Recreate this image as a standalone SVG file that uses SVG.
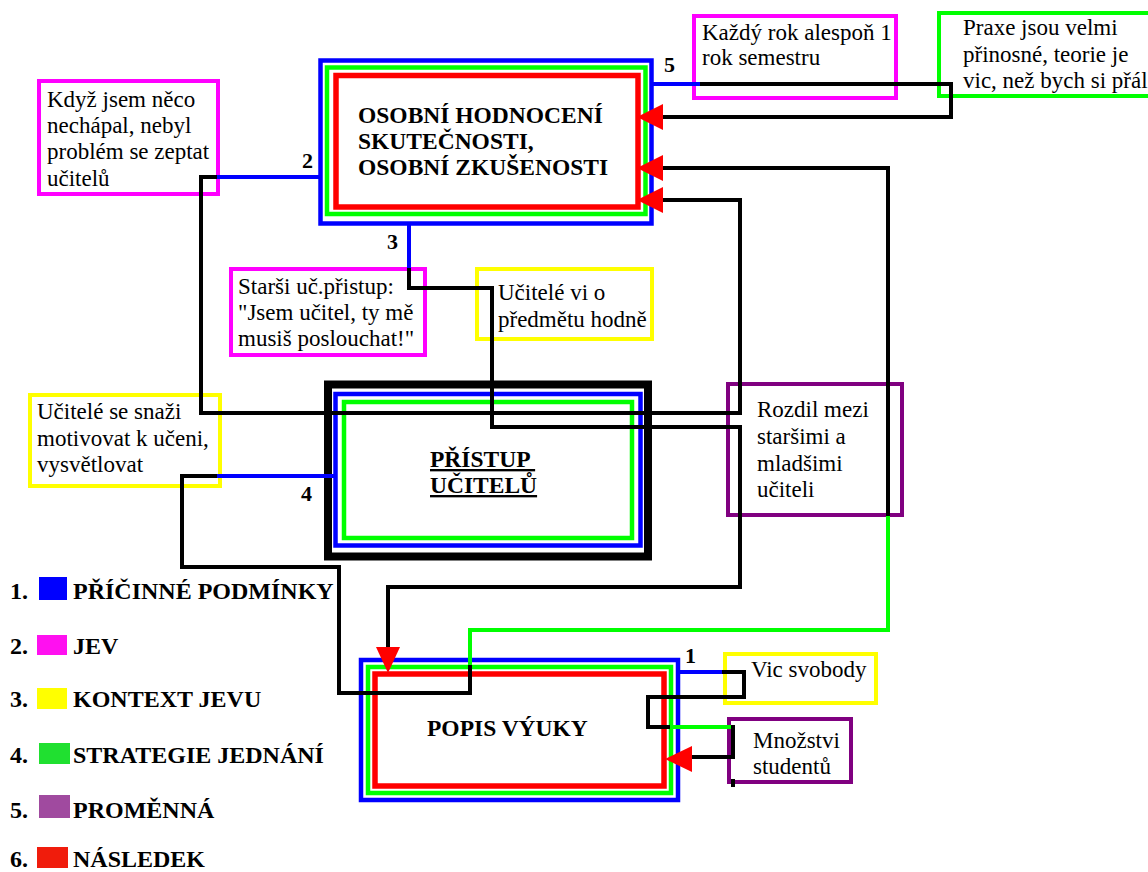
<svg xmlns="http://www.w3.org/2000/svg" width="1148" height="872" viewBox="0 0 1148 872">
  <defs>
    <style>
      .t { font-family: "Liberation Serif", "Times New Roman", serif; font-size: 23px; fill: #000; }
      .tb { font-family: "Liberation Serif", "Times New Roman", serif; font-size: 23.5px; font-weight: bold; fill: #000; }
      .lg { font-family: "Liberation Serif", "Times New Roman", serif; font-size: 24px; font-weight: bold; fill: #000; }
      .num { font-family: "Liberation Serif", "Times New Roman", serif; font-size: 22px; font-weight: bold; fill: #000; }
      .box { fill: none; stroke-width: 4; }
      .mag { stroke: #FF00FF; }
      .yel { stroke: #FFFF00; }
      .grn { stroke: #00FF00; }
      .pur { stroke: #800080; }
      .frame-b { fill: none; stroke: #0000FF; stroke-width: 4.5; }
      .frame-g { fill: none; stroke: #00FF00; stroke-width: 4.5; }
      .frame-r { fill: none; stroke: #FF0000; stroke-width: 5.5; }
      .ln { fill: none; stroke-width: 4; stroke-linejoin: miter; stroke-linecap: square; }
      .k { stroke: #000; }
      .b { stroke: #0000FF; }
      .g { stroke: #00FF00; }
      .arrow { fill: #FF0000; }
    </style>
  </defs>

  <rect width="1148" height="872" fill="#fff"/>

  <!-- central category: personal evaluation -->
  <g id="osobni-hodnoceni">
    <rect class="frame-b" x="320.5" y="60.5" width="331" height="163"/>
    <rect class="frame-g" x="327" y="67.5" width="318.5" height="146.5"/>
    <rect class="frame-r" x="336" y="75.5" width="302" height="131.5"/>
    <text class="tb" x="358" y="123">OSOBNÍ HODNOCENÍ</text>
    <text class="tb" x="358" y="149">SKUTEČNOSTI,</text>
    <text class="tb" x="358" y="175">OSOBNÍ ZKUŠENOSTI</text>
  </g>

  <!-- teachers' approach -->
  <g id="pristup-ucitelu">
    <rect x="328" y="384.5" width="320" height="172" fill="none" stroke="#000" stroke-width="8"/>
    <rect class="frame-b" x="335.5" y="394" width="305" height="151.5" stroke-width="4"/>
    <rect class="frame-g" x="344" y="402" width="288" height="136" stroke-width="4"/>
    <text class="tb" x="430" y="467" text-decoration="underline" xml:space="preserve">PŘÍSTUP </text>
    <text class="tb" x="430" y="493" text-decoration="underline">UČITELŮ</text>
  </g>

  <!-- description of teaching -->
  <g id="popis-vyuky">
    <rect class="frame-b" x="361" y="660" width="317" height="140"/>
    <rect class="frame-g" x="368" y="667" width="303" height="126"/>
    <rect class="frame-r" x="375" y="674" width="289" height="112" stroke-width="5"/>
    <text class="tb" x="427" y="736">POPIS VÝUKY</text>
  </g>

  <g id="kdyz-jsem">
    <rect class="box mag" x="39" y="81" width="179" height="113"/>
    <text class="t" x="47" y="107">Když jsem něco</text>
    <text class="t" x="47" y="133">nechápal, nebyl</text>
    <text class="t" x="47" y="159">problém se zeptat</text>
    <text class="t" x="47" y="186">učitelů</text>
  </g>

  <g id="kazdy-rok">
    <rect class="box mag" x="694" y="16" width="202" height="82"/>
    <text class="t" x="702" y="40">Každý rok alespoň 1</text>
    <text class="t" x="702" y="65">rok semestru</text>
  </g>

  <g id="praxe">
    <rect class="box grn" x="939" y="13" width="215" height="83"/>
    <text class="t" x="963" y="35">Praxe jsou velmi</text>
    <text class="t" x="963" y="62">přinosné, teorie je</text>
    <text class="t" x="963" y="88">vic, než bych si přál</text>
  </g>

  <g id="starsi-pristup">
    <rect class="box mag" x="231" y="269" width="194" height="86"/>
    <text class="t" x="238" y="294">Starši uč.přistup:</text>
    <text class="t" x="238" y="320">"Jsem učitel, ty mě</text>
    <text class="t" x="238" y="346">musiš poslouchat!"</text>
  </g>

  <g id="ucitele-vi">
    <rect class="box yel" x="477" y="269" width="175" height="70"/>
    <text class="t" x="498" y="300">Učitelé vi o</text>
    <text class="t" x="498" y="327">předmětu hodně</text>
  </g>

  <g id="ucitele-motivuji">
    <rect class="box yel" x="30" y="395" width="190" height="91"/>
    <text class="t" x="37" y="419">Učitelé se snaži</text>
    <text class="t" x="37" y="446">motivovat k učeni,</text>
    <text class="t" x="37" y="472">vysvětlovat</text>
  </g>

  <g id="rozdil">
    <rect class="box pur" x="728" y="384" width="174" height="131"/>
    <text class="t" x="757" y="417">Rozdil mezi</text>
    <text class="t" x="757" y="444">staršimi a</text>
    <text class="t" x="757" y="471">mladšimi</text>
    <text class="t" x="757" y="497">učiteli</text>
  </g>

  <g id="vic-svobody">
    <rect class="box yel" x="725" y="654" width="151" height="49"/>
    <text class="t" x="751" y="677">Vic svobody</text>
  </g>

  <g id="mnozstvi">
    <rect class="box pur" x="729" y="719" width="122" height="63"/>
    <text class="t" x="753" y="748">Množstvi</text>
    <text class="t" x="753" y="774">studentů</text>
  </g>

  <!-- connectors -->
  <g id="connectors">
    <!-- 2 -->
    <polyline class="ln b" points="320,177 215,177"/>
    <polyline class="ln k" points="215,177 201,177 201,413 740,413 740,200 662,200"/>
    <!-- 3 -->
    <polyline class="ln b" points="409,224 409,270"/>
    <polyline class="ln k" points="409,270 409,288 492,288 492,427 740,427 740,587 388,587 388,648"/>
    <!-- 5 -->
    <polyline class="ln b" points="652,84 702,84"/>
    <polyline class="ln k" points="702,84 951,84 951,117 662,117"/>
    <!-- 4 -->
    <polyline class="ln b" points="335,476 215,476"/>
    <polyline class="ln k" points="215,476 182,476 182,567 339,567 339,693 470,693 470,663"/>
    <polyline class="ln g" points="470,663 470,630 888,630 888,514"/>
    <polyline class="ln k" points="888,514 888,168 662,168"/>
    <!-- 1 -->
    <polyline class="ln b" points="678,672 724,672"/>
    <polyline class="ln k" points="724,672 744,672 744,697 648,697 648,727 672,727"/>
    <polyline class="ln g" points="672,727 733,727"/>
    <polyline class="ln k" points="733,727 733,757 691,757"/>
    <line class="ln k" x1="733" y1="781" x2="733" y2="785" stroke-linecap="butt"/>

    <!-- arrowheads -->
    <polygon class="arrow" points="637,117 663,104 663,130"/>
    <polygon class="arrow" points="637,168 663,155 663,181"/>
    <polygon class="arrow" points="637,200 663,187 663,213"/>
    <polygon class="arrow" points="388,673 376,647 400,647"/>
    <polygon class="arrow" points="665,759 692,746 692,772"/>

    <text class="num" x="302" y="168">2</text>
    <text class="num" x="387" y="249">3</text>
    <text class="num" x="664" y="72">5</text>
    <text class="num" x="301" y="501">4</text>
    <text class="num" x="685" y="663">1</text>
  </g>

  <!-- legend -->
  <g id="legend">
    <text class="lg" x="10" y="599">1.</text>
    <rect x="39" y="577" width="28" height="23" fill="#0000FF"/>
    <text class="lg" x="73" y="599">PŘÍČINNÉ PODMÍNKY</text>

    <text class="lg" x="10" y="654">2.</text>
    <rect x="37" y="635" width="30" height="20" fill="#FF10F0"/>
    <text class="lg" x="73" y="654">JEV</text>

    <text class="lg" x="10" y="707">3.</text>
    <rect x="37" y="688" width="30" height="21" fill="#FFFF00"/>
    <text class="lg" x="73" y="707">KONTEXT JEVU</text>

    <text class="lg" x="10" y="763">4.</text>
    <rect x="39" y="743" width="31" height="21" fill="#20E030"/>
    <text class="lg" x="73" y="763">STRATEGIE JEDNÁNÍ</text>

    <text class="lg" x="10" y="818">5.</text>
    <rect x="39" y="795" width="31" height="23" fill="#A04A9F"/>
    <text class="lg" x="73" y="818">PROMĚNNÁ</text>

    <text class="lg" x="10" y="867">6.</text>
    <rect x="37" y="847" width="31" height="21" fill="#F01C0C"/>
    <text class="lg" x="73" y="867">NÁSLEDEK</text>
  </g>
</svg>
